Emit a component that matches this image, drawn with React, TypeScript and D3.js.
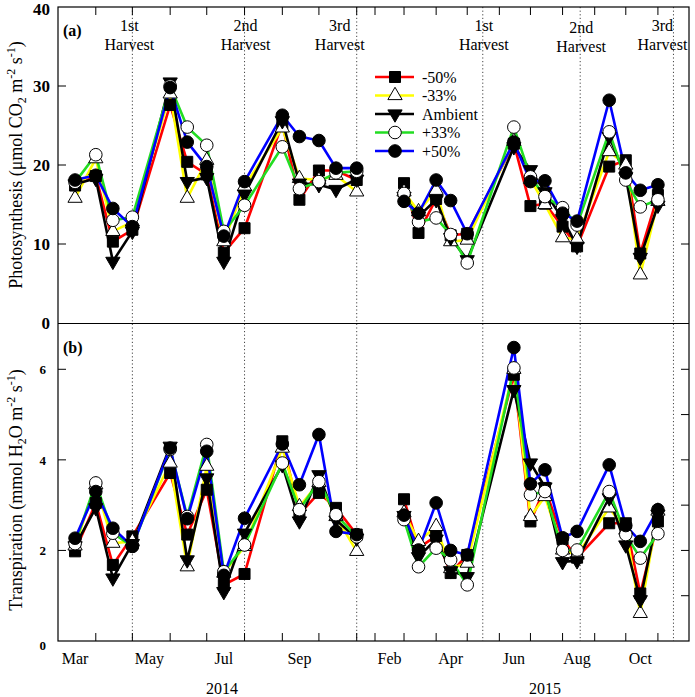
import React from "react";
import * as d3 from "d3";

// ---- data ----
const dates2014 = ["2014-03-15","2014-04-01","2014-04-15","2014-05-01","2014-06-01","2014-06-15","2014-07-01","2014-07-15","2014-08-01","2014-09-01","2014-09-15","2014-10-01","2014-10-15","2014-11-01"];
const dates2015 = ["2015-03-01","2015-03-15","2015-04-01","2015-04-15","2015-05-01","2015-06-15","2015-07-01","2015-07-15","2015-08-01","2015-08-15","2015-09-15","2015-10-01","2015-10-15","2015-11-01"];

const seriesNames = ["-50%", "-33%", "Ambient", "+33%", "+50%"];

// Photosynthesis (panel a)
const photo2014 = [
  [17.4, 18.6, 10.3, 11.8, 27.6, 20.4, 18.8, 8.9, 12.0, 25.2, 15.6, 19.3, 19.3, 18.1],
  [15.8, 20.8, 11.6, 12.8, 29.0, 15.8, 20.6, 10.3, 17.3, 24.7, 18.3, 18.1, 18.7, 16.6],
  [17.6, 18.3, 7.8, 11.6, 30.5, 17.9, 18.4, 7.8, 16.3, 25.6, 17.7, 17.5, 16.9, 18.2],
  [17.8, 21.3, 13.0, 13.4, 30.0, 24.8, 22.5, 11.6, 14.9, 22.3, 17.0, 17.9, 19.0, 19.2],
  [18.1, 18.7, 14.5, 12.2, 29.8, 22.9, 19.8, 11.0, 17.9, 26.3, 23.6, 23.1, 19.6, 19.6],
];
const photo2015 = [
  [17.7, 11.4, 15.7, 11.1, 11.3, 22.7, 14.8, 15.1, 12.2, 9.7, 19.8, 20.6, 8.8, 16.2],
  [16.6, 14.1, 16.8, 10.3, 10.5, 23.0, 18.2, 15.0, 10.8, 10.6, 21.7, 20.0, 6.1, 15.4],
  [16.0, 13.5, 15.6, 10.8, 8.0, 22.3, 19.4, 16.6, 13.2, 9.7, 23.6, 18.5, 8.3, 14.9],
  [16.4, 12.8, 13.3, 11.2, 7.6, 24.8, 18.5, 16.0, 14.6, 12.4, 24.2, 18.1, 14.7, 15.6],
  [15.4, 13.9, 18.1, 15.5, 11.3, 22.9, 17.9, 18.0, 13.9, 12.9, 28.2, 19.0, 16.8, 17.5],
];
// Transpiration (panel b)
const trans2014 = [
  [1.98, 3.05, 1.68, 2.31, 3.71, 2.35, 3.34, 1.24, 1.48, 4.41, 2.80, 3.27, 2.94, 2.35],
  [2.10, 3.45, 2.16, 2.20, 3.93, 1.64, 3.86, 1.50, 2.09, 4.26, 2.97, 3.50, 2.75, 1.98],
  [2.10, 2.94, 1.39, 2.15, 4.30, 1.79, 3.60, 1.09, 2.38, 3.89, 2.65, 3.67, 2.67, 2.27],
  [2.15, 3.49, 2.38, 2.09, 4.23, 2.75, 4.34, 1.53, 2.12, 3.93, 2.90, 3.52, 2.79, 2.30],
  [2.27, 3.30, 2.49, 2.09, 4.26, 2.70, 4.19, 1.45, 2.71, 4.35, 3.45, 4.56, 2.42, 2.35],
];
const trans2015 = [
  [3.13, 2.05, 2.32, 1.50, 1.90, 5.88, 2.64, 3.38, 2.25, 1.84, 2.60, 2.60, 1.05, 2.64],
  [2.83, 2.20, 2.53, 1.60, 1.72, 6.00, 2.75, 3.19, 2.01, 1.90, 2.94, 2.45, 0.61, 2.87],
  [2.77, 1.86, 2.25, 1.55, 1.42, 5.55, 3.93, 3.40, 1.75, 1.77, 3.16, 2.12, 0.91, 2.80],
  [2.68, 1.64, 2.05, 1.79, 1.24, 6.03, 3.23, 3.30, 2.00, 2.01, 3.30, 2.35, 1.83, 2.37],
  [2.78, 2.01, 3.05, 2.00, 1.90, 6.48, 3.47, 3.78, 2.28, 2.42, 3.89, 2.55, 2.20, 2.90],
];

const harvest2014 = ["2014-05-01", "2014-08-01", "2014-11-01"];
const harvest2015 = ["2015-05-16", "2015-08-18", "2015-11-16"];
const harvestLabels = ["1st", "2nd", "3rd"];
const months2014 = [["Mar","2014-03-15"],["May","2014-05-15"],["Jul","2014-07-15"],["Sep","2014-09-15"]];
const months2015 = [["Feb","2015-02-15"],["Apr","2015-04-15"],["Jun","2015-06-15"],["Aug","2015-08-15"],["Oct","2015-10-15"]];
const photoTicks = [0, 10, 20, 30, 40];
const transTicks = [0, 2, 4, 6];

// ---- styles ----
const lineColors = ["#ff0000", "#ffff00", "#000000", "#22dd22", "#0000ff"];
const shapes = ["square", "triangleUp", "triangleDown", "circle", "circle"];
const fills = ["#000", "#fff", "#000", "#fff", "#000"];

const FONT = "'Liberation Serif', 'Times New Roman', serif";
const parse = d3.timeParse("%Y-%m-%d");

const L = 58, R = 689, MID = 375;
const TOP_A = 7, BOT_A = 323, TOP_B = 324, BOT_B = 641;

const x14 = d3.scaleTime().domain([new Date(2014, 2, 1), new Date(2014, 10, 16)]).range([L, MID]);
const x15 = d3.scaleTime().domain([new Date(2015, 1, 1), new Date(2015, 11, 1)]).range([MID, R]);
const yA = d3.scaleLinear().domain([0, 40]).range([BOT_A, TOP_A]);
const yB = d3.scaleLinear().domain([0, 7]).range([BOT_B, TOP_B]);

function symbolPath(shape: string) {
  if (shape === "square") return d3.symbol(d3.symbolSquare, 121)()!;
  if (shape === "circle") return d3.symbol(d3.symbolCircle, 125)()!;
  return d3.symbol(d3.symbolTriangle, 88)()!;
}

function Marker({ shape, fill, x, y }: any) {
  const rot = shape === "triangleDown" ? " rotate(180)" : "";
  return (
    <path d={symbolPath(shape)} transform={`translate(${x},${y})${rot}`} fill={fill} stroke="#000" strokeWidth={1} />
  );
}

function Panel({ d14, d15, y }: any) {
  const segs = [
    { xs: x14, dates: dates2014.map(parse), vals: d14 },
    { xs: x15, dates: dates2015.map(parse), vals: d15 },
  ];
  const lines: any[] = [];
  const marks: any[] = [];
  seriesNames.forEach((name, si) => {
    segs.forEach((sg, gi) => {
      const pts = sg.dates.map((dt: any, i: number) => [sg.xs(dt), y(sg.vals[si][i])] as [number, number]);
      lines.push(
        <path key={`l${si}-${gi}`} d={d3.line()(pts)!} fill="none" stroke={lineColors[si]} strokeWidth={2.6} strokeLinejoin="round" />
      );
      pts.forEach((p, i) =>
        marks.push(<Marker key={`m${si}-${gi}-${i}`} shape={shapes[si]} fill={fills[si]} x={p[0]} y={p[1]} />)
      );
    });
  });
  return (
    <g>
      {lines}
      {marks}
    </g>
  );
}

export default function App() {
  const monthTicks = [
    ...d3.timeMonth.range(new Date(2014, 3, 1), new Date(2014, 10, 2)).map((d) => x14(d)),
    ...d3.timeMonth.range(new Date(2015, 1, 1), new Date(2015, 10, 2)).map((d) => x15(d)),
  ];
  const harvestX = [...harvest2014.map((d) => x14(parse(d)!)), ...harvest2015.map((d) => x15(parse(d)!))];
  const harvestTextX = [
    x14(parse(harvest2014[0])!) - 3, x14(parse(harvest2014[1])!) + 1, x14(parse(harvest2014[2])!) - 17,
    x15(parse(harvest2015[0])!) + 1, x15(parse(harvest2015[1])!) + 1, x15(parse(harvest2015[2])!) - 11,
  ];
  const tl = 8;

  return (
    <svg width={695} height={697} style={{ position: "absolute", left: 0, top: 0, background: "#fff" }} fontFamily={FONT}>
      <rect x={0} y={0} width={695} height={697} fill="#fff" />
      {/* harvest lines */}
      {harvestX.map((hx, i) => (
        <line key={`h${i}`} x1={hx} x2={hx} y1={TOP_A} y2={BOT_B} stroke="#444" strokeWidth={1} strokeDasharray="1.2,2.4" />
      ))}
      {/* harvest labels */}
      {harvestTextX.map((hx, i) => (
        <g key={`ht${i}`} fontSize={16} textAnchor="middle" fill="#000">
          <text x={hx} y={i === 4 ? 33 : 31}>{harvestLabels[i % 3]}</text>
          <text x={hx} y={i === 4 ? 52 : 50}>Harvest</text>
        </g>
      ))}

      <Panel d14={photo2014} d15={photo2015} y={yA} />
      <Panel d14={trans2014} d15={trans2015} y={yB} />

      {/* frames */}
      <rect x={L} y={TOP_A} width={R - L} height={BOT_B - TOP_A} fill="none" stroke="#000" strokeWidth={1.2} />
      <line x1={L} x2={R} y1={BOT_A + 0.5} y2={BOT_A + 0.5} stroke="#000" strokeWidth={1.2} />

      {/* x ticks */}
      {monthTicks.map((tx, i) => (
        <g key={`xt${i}`} stroke="#000" strokeWidth={1}>
          <line x1={tx} x2={tx} y1={TOP_A} y2={TOP_A + tl} />
          <line x1={tx} x2={tx} y1={BOT_B} y2={BOT_B - tl} />
        </g>
      ))}
      {/* y ticks panel a */}
      {photoTicks.filter((t) => t > 0 && t < 40).map((t) => (
        <g key={`ya${t}`} stroke="#000">
          <line x1={L} x2={L + tl} y1={yA(t)} y2={yA(t)} />
          <line x1={R} x2={R - tl} y1={yA(t)} y2={yA(t)} />
        </g>
      ))}
      {photoTicks.map((t) => (
        <text key={`yal${t}`} x={50} y={Math.max(yA(t) + 6, 15)} fontSize={17} fontWeight="bold" textAnchor="end">{t}</text>
      ))}
      {/* y ticks panel b */}
      {transTicks.filter((t) => t > 0).map((t) => (
        <line key={`yb${t}`} x1={L} x2={L + tl} y1={yB(t)} y2={yB(t)} stroke="#000" />
      ))}
      {d3.range(1, 7).map((t) => (
        <line key={`ybr${t}`} x1={R} x2={R - tl} y1={yB(t)} y2={yB(t)} stroke="#000" />
      ))}
      {transTicks.map((t) => (
        <text key={`ybl${t}`} x={46} y={yB(t) + (t === 0 ? 9 : 5)} fontSize={13} fontWeight="bold" textAnchor="end">{t}</text>
      ))}

      {/* panel labels */}
      <text x={63} y={36} fontSize={16} fontWeight="bold">(a)</text>
      <text x={63} y={353} fontSize={16} fontWeight="bold">(b)</text>

      {/* month labels */}
      {months2014.map(([m, d]) => (
        <text key={m} x={x14(parse(d)!)} y={664} fontSize={16} textAnchor="middle">{m}</text>
      ))}
      {months2015.map(([m, d]) => (
        <text key={m} x={x15(parse(d)!)} y={664} fontSize={16} textAnchor="middle">{m}</text>
      ))}
      <text x={222} y={694} fontSize={16} textAnchor="middle">2014</text>
      <text x={545} y={694} fontSize={16} textAnchor="middle">2015</text>

      {/* y titles */}
      <text transform="translate(22,165) rotate(-90)" fontSize={18} textAnchor="middle">
        Photosynthesis (μmol CO<tspan dy={4} fontSize={12}>2</tspan>
        <tspan dy={-4}> m</tspan><tspan dy={-7} fontSize={12}>-2</tspan>
        <tspan dy={7}> s</tspan><tspan dy={-7} fontSize={12}>-1</tspan><tspan dy={7}>)</tspan>
      </text>
      <text transform="translate(22,490) rotate(-90)" fontSize={18} textAnchor="middle">
        Transpiration (mmol H<tspan dy={4} fontSize={12}>2</tspan>
        <tspan dy={-4}>O m</tspan><tspan dy={-7} fontSize={12}>-2</tspan>
        <tspan dy={7}> s</tspan><tspan dy={-7} fontSize={12}>-1</tspan><tspan dy={7}>)</tspan>
      </text>

      {/* legend */}
      {seriesNames.map((n, i) => {
        const ly = 77 + i * 18.5;
        return (
          <g key={`lg${i}`}>
            <line x1={375} x2={414} y1={ly} y2={ly} stroke={lineColors[i]} strokeWidth={2.6} />
            <Marker shape={shapes[i]} fill={fills[i]} x={395} y={ly} />
            <text x={422} y={ly + 5.5} fontSize={16}>{n}</text>
          </g>
        );
      })}
    </svg>
  );
}
